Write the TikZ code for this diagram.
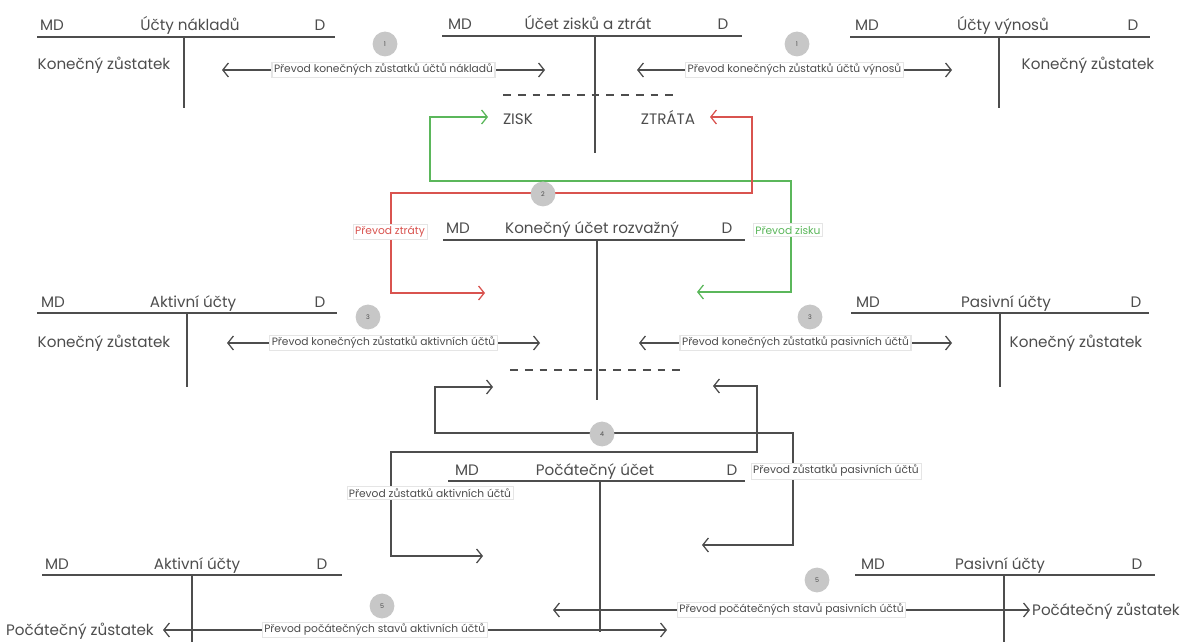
\documentclass[tikz,border=0pt]{standalone}
\usepackage{fontspec}
\setmainfont{Poppins}
\usetikzlibrary{arrows.meta}

\definecolor{tgray}{HTML}{4D4D4D}
\definecolor{zgreen}{HTML}{5BB75B}
\definecolor{zred}{HTML}{D9534F}

\tikzset{
  acc/.style={draw=tgray, line width=1.3pt},
  acctext/.style={font=\fontsize{10.8}{12}\selectfont, text=tgray, inner sep=0pt, anchor=base},
  barb/.style={line width=0.9pt, {Straight Barb[length=4pt,width=10pt]}-{Straight Barb[length=4pt,width=10pt]}},
  flow/.style={barb, draw=tgray},
  lbl/.style={font=\fontsize{7.6}{8}\selectfont, fill=white, draw=black!10, inner sep=1.5pt, text=tgray},
  num/.style={circle, fill=black!22, minimum size=0.62cm, inner sep=0pt, font=\fontsize{4.5}{5}\selectfont, text=black!70},
  split/.style={draw=tgray, line width=1.2pt, dash pattern=on 5.5pt off 5pt},
}

\begin{document}
\begin{tikzpicture}[x=0.025cm, y=-0.025cm]
\useasboundingbox (0,0) rectangle (1184,642);

\node[acctext] (nakMD) at (52,31) {MD};
\node[acctext] (nakT) at (190,31) {Účty nákladů};
\node[acctext] (nakD) at (320,31) {D};
\draw[acc] (37,37) -- (335,37) (184,37) -- (184,108);
\node[acctext] (nakK) at (104,70) {Konečný zůstatek};

\node[acctext] (vzzMD) at (460,30) {MD};
\node[acctext] (vzzT) at (588,30) {Účet zisků a ztrát};
\node[acctext] (vzzD) at (723,30) {D};
\draw[acc] (442,36) -- (742,36) (595,36) -- (595,153);
\draw[split] (503,95) -- (678,95);
\node[acctext] (zisk) at (518,125) {ZISK};
\node[acctext] (ztrata) at (668,125) {ZTRÁTA};

\node[acctext] (vynMD) at (867,31) {MD};
\node[acctext] (vynT) at (1003,31) {Účty výnosů};
\node[acctext] (vynD) at (1133,31) {D};
\draw[acc] (850,37) -- (1150,37) (999,37) -- (999,108);
\node[acctext] (vynK) at (1088,70) {Konečný zůstatek};

\node[acctext] (kurMD) at (458,234) {MD};
\node[acctext] (kurT) at (592,234) {Konečný účet rozvažný};
\node[acctext] (kurD) at (727,234) {D};
\draw[acc] (443,240) -- (745,240) (597,240) -- (597,400);
\draw[split] (510,370) -- (687,370);

\node[acctext] (aktMD) at (53,308) {MD};
\node[acctext] (aktT) at (193,308) {Aktivní účty};
\node[acctext] (aktD) at (320,308) {D};
\draw[acc] (37,313) -- (337,313) (187,313) -- (187,387);
\node[acctext] (aktK) at (104,348) {Konečný zůstatek};

\node[acctext] (pasMD) at (868,308) {MD};
\node[acctext] (pasT) at (1006,308) {Pasivní účty};
\node[acctext] (pasD) at (1136,308) {D};
\draw[acc] (851,313) -- (1149,313) (1000,313) -- (1000,387);
\node[acctext] (pasK) at (1076,348) {Konečný zůstatek};

\node[acctext] (pocMD) at (467,475) {MD};
\node[acctext] (pocT) at (595,475) {Počátečný účet};
\node[acctext] (pocD) at (732,475) {D};
\draw[acc] (448,481) -- (745,481) (600,481) -- (600,632);

\node[acctext] (aktpMD) at (57,569) {MD};
\node[acctext] (aktpT) at (197,569) {Aktivní účty};
\node[acctext] (aktpD) at (322,569) {D};
\draw[acc] (42,575) -- (342,575) (192,575) -- (192,642);
\node[acctext] (aktpK) at (80,635) {Počátečný zůstatek};

\node[acctext] (paspMD) at (873,569) {MD};
\node[acctext] (paspT) at (1000,569) {Pasivní účty};
\node[acctext] (paspD) at (1137,569) {D};
\draw[acc] (855,575) -- (1155,575) (1004,575) -- (1004,642);
\node[acctext] (paspK) at (1106,615) {Počátečný zůstatek};

\coordinate (nakL) at (222,70);
\coordinate (nakR) at (545,70);
\coordinate (vynL) at (637,70);
\coordinate (vynR) at (952,70);
\coordinate (aktL) at (227,343);
\coordinate (aktR) at (540,343);
\coordinate (pasL) at (639,343);
\coordinate (pasR) at (952,343);
\coordinate (aktpL) at (163,630);
\coordinate (aktpR) at (667,630);
\coordinate (paspL) at (553,610);
\coordinate (paspR) at (1030,610);

\draw[flow] (nakL) -- node[lbl] (nakP) {Převod konečných zůstatků účtů nákladů} (nakR);
\draw[flow] (vynL) -- node[lbl] (vynP) {Převod konečných zůstatků účtů výnosů} (vynR);
\draw[flow] (aktL) -- node[lbl] (aktP) {Převod konečných zůstatků aktivních účtů} (aktR);
\draw[flow] (pasL) -- node[lbl] (pasP) {Převod konečných zůstatků pasivních účtů} (pasR);
\draw[flow] (aktpL) -- node[lbl, pos=0.42] (aktpP) {Převod počátečných stavů aktivních účtů} (aktpR);
\draw[flow] (paspL) -- node[lbl] (paspP) {Převod počátečných stavů pasivních účtů} (paspR);

\coordinate (ziskA) at (488,117);
\coordinate (ziskC1) at (430,181);
\coordinate (ziskC2) at (791,181);
\coordinate (ziskB) at (697,292);
\draw[barb, draw=zgreen] (ziskA) -| (ziskC1) -- (ziskC2) |- (ziskB);

\coordinate (ztrA) at (710,117);
\coordinate (ztrC1) at (752,193);
\coordinate (ztrC2) at (391,193);
\coordinate (ztrB) at (485,293);
\draw[barb, draw=zred] (ztrA) -| (ztrC1) -- (ztrC2) |- (ztrB);

\node[lbl, text=zred] (ztrP) at (390,232) {Převod ztráty};
\node[lbl, text=zgreen] (ziskP) at (788,230) {Převod zisku};

\coordinate (pzA) at (493,387);
\coordinate (pzC1) at (435,433);
\coordinate (pzC2) at (793,433);
\coordinate (pzB) at (702,545);
\draw[flow] (pzA) -| (pzC1) -- (pzC2) |- (pzB);

\coordinate (azA) at (713,386);
\coordinate (azC1) at (757,452);
\coordinate (azC2) at (391,452);
\coordinate (azB) at (483,556);
\draw[flow] (azA) -| (azC1) -- (azC2) |- (azB);

\node[lbl] (azP) at (430,493) {Převod zůstatků aktivních účtů};
\node[lbl] (pzP) at (836,471) {Převod zůstatků pasivních účtů};

\node[num] (n1a) at (385,44) {1};
\node[num] (n1b) at (797,44) {1};
\node[num] (n2) at (543,194) {2};
\node[num] (n3a) at (368,317) {3};
\node[num] (n3b) at (810,317) {3};
\node[num] (n4) at (602,434) {4};
\node[num] (n5a) at (382,606) {5};
\node[num] (n5b) at (817,580) {5};

\end{tikzpicture}
\end{document}
